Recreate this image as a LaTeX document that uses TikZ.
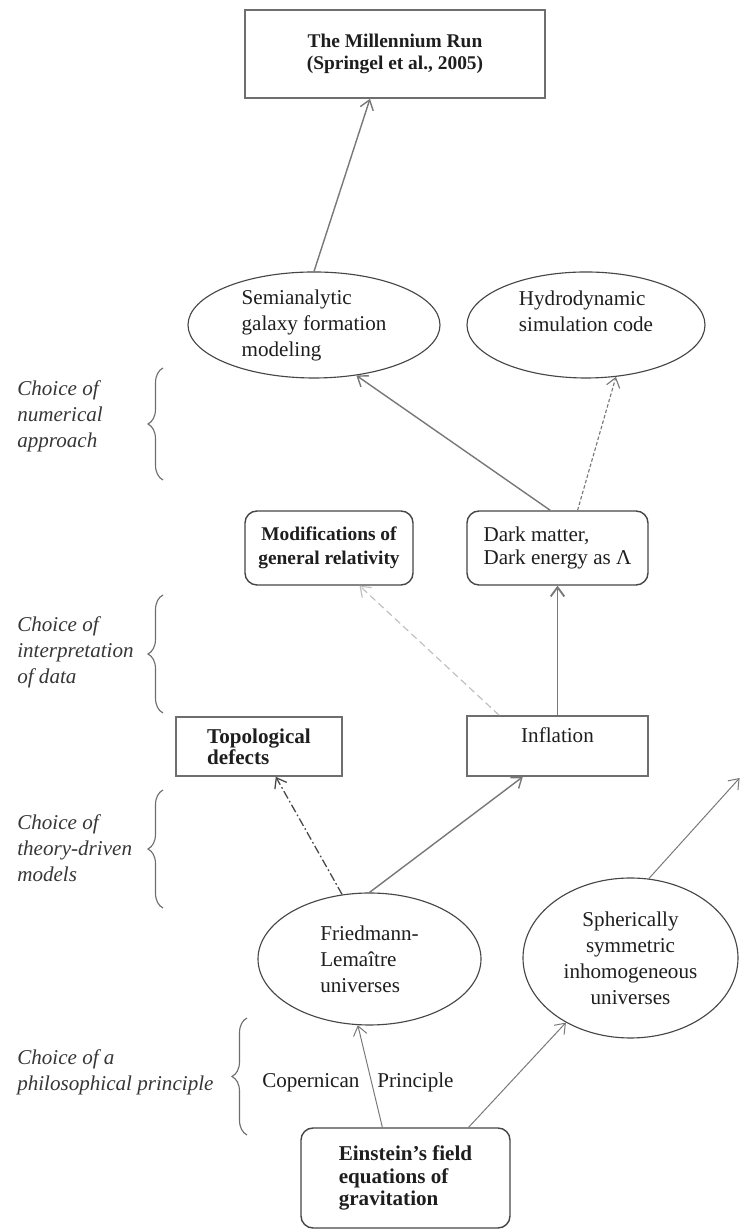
\documentclass[tikz,border=0pt]{standalone}
\usepackage{fontspec}
\setmainfont{Liberation Serif}
\usetikzlibrary{arrows.meta,calc,shapes.geometric,decorations.pathreplacing}
\definecolor{MilInk}{RGB}{30,30,30}
\definecolor{MilLine}{RGB}{110,110,110}
\definecolor{MilEdge}{RGB}{70,70,70}
\definecolor{MilArrow}{RGB}{120,120,120}
\definecolor{MilLight}{RGB}{190,190,190}
\definecolor{MilLabel}{RGB}{55,55,55}
\tikzset{
  mil/box/.style={
    draw=MilLine,
    line width=1.2pt,
    fill=white,
    text=MilInk,
    inner sep=0pt,
    align=center,
    font=\fontsize{13.8}{15.6}\selectfont\bfseries
  },
  mil/rbox/.style={
    draw=MilEdge,
    line width=1pt,
    rounded corners=0.3cm,
    fill=white,
    text=MilInk,
    inner sep=0pt,
    align=left,
    font=\fontsize{15}{16.5}\selectfont
  },
  mil/ell/.style={
    ellipse,
    draw=MilEdge,
    line width=0.8pt,
    fill=white,
    text=MilInk,
    inner sep=0pt,
    align=left,
    font=\fontsize{15}{18.5}\selectfont
  },
  mil/label/.style={anchor=west, inner sep=0pt, align=left, text=MilLabel, font=\fontsize{15}{18.5}\selectfont\itshape},
  mil/brace/.style={decorate, decoration={brace, amplitude=0.375cm}, draw=MilLine, line width=0.8pt},
  mil/arrow/.style={-{Straight Barb[length=2.3mm,width=3.4mm]}, line width=1pt, draw=MilArrow},
  mil/thinarrow/.style={-{Straight Barb[length=2.3mm,width=3.4mm]}, line width=0.7pt, draw=MilArrow},
  mil/dotarrow/.style={-{Straight Barb[length=2.3mm,width=3.4mm]}, line width=0.8pt, draw=MilArrow, dash pattern=on 2.5pt off 1.5pt},
  mil/lightarrow/.style={-{Straight Barb[length=2.3mm,width=3.4mm]}, line width=0.8pt, draw=MilLight, dash pattern=on 5pt off 3pt},
  mil/dasharrow/.style={-{Straight Barb[length=2.3mm,width=3.4mm]}, line width=0.9pt, draw=MilEdge, dash pattern=on 6pt off 2pt on 1.2pt off 2pt}
}
\begin{document}
\begin{tikzpicture}[x=1cm,y=1cm]
  \path[use as bounding box, fill=white] (0,0) rectangle (18.5,30.75);
  \node[mil/box,minimum width=7.5cm,minimum height=2.2cm] (run) at (9.875,29.4) {The Millennium Run\\(Springel et al., 2005)};
  \node[mil/ell,minimum width=6.3cm,minimum height=2.65cm] (semi) at (7.85,22.625) {Semianalytic\\galaxy formation\\modeling};
  \node[mil/ell,minimum width=5.95cm,minimum height=2.65cm,text depth=19pt] (hydro) at (14.65,22.625) {Hydrodynamic\\simulation code};
  \node[mil/rbox,align=center,minimum width=4.2cm,minimum height=1.85cm,font=\fontsize{13.8}{17}\selectfont\bfseries] (mods) at (8.225,17.05) {Modifications of\\general relativity};
  \node[mil/rbox,minimum width=4.525cm,minimum height=1.85cm] (dark) at (13.9375,17.05) {Dark matter,\\Dark energy as Λ};
  \node[mil/box,align=left,minimum width=4.15cm,minimum height=1.475cm,font=\fontsize{15}{15}\selectfont\bfseries] (topo) at (6.475,12.0875) {Topological\\defects};
  \node[mil/box,minimum width=4.525cm,minimum height=1.5cm,text depth=16pt,font=\fontsize{15}{15}\selectfont] (infl) at (13.9375,12.1) {Inflation};
  \node[mil/ell,minimum width=5.575cm,minimum height=3.3cm] (fried) at (9.2375,6.775) {Friedmann-\\Lemaître\\universes};
  \node[mil/ell,align=center,minimum width=5.375cm,minimum height=4cm] (sph) at (15.7625,6.8) {Spherically\\symmetric\\inhomogeneous\\universes};
  \node[mil/rbox,minimum width=5.225cm,minimum height=2.5cm,font=\fontsize{15}{16}\selectfont\bfseries] (ein) at (10.1375,1.3) {Einstein's field\\equations of\\gravitation};
  \node[anchor=base west,inner sep=0pt,text=MilInk,font=\fontsize{15}{18}\selectfont] (cop) at (6.55,3.55) {Copernican\hspace{0.85em}Principle};
  \coordinate (offedge) at (18.49,11.3);

  \node[mil/label] (numlab) at (0.425,20.35) {Choice of\\numerical\\approach};
  \node[mil/label] (datalab) at (0.425,14.45) {Choice of\\interpretation\\of data};
  \node[mil/label] (theolab) at (0.425,9.55) {Choice of\\theory-driven\\models};
  \node[mil/label] (philab) at (0.425,3.95) {Choice of a\\philosophical principle};
  \foreach \xb/\yb/\yt in {4.075/18.75/21.55, 4.075/12.925/15.875, 4.075/8.05/11.0, 6.175/2.375/5.3}{
    \draw[mil/brace] (\xb,\yb) -- (\xb,\yt);
  }

  \draw[mil/arrow] (semi.north) -- ($(run.south west)!0.417!(run.south east)$);
  \draw[mil/arrow] ($(dark.north west)!0.46!(dark.north east)$) -- (semi.-50);
  \draw[mil/dotarrow] ($(dark.north west)!0.61!(dark.north east)$) -- (hydro.-60);
  \draw[mil/arrow,line width=1.3pt] (infl.north) -- (dark.south);
  \draw[mil/lightarrow] ($(infl.north west)!0.18!(infl.north east)$) -- ($(mods.south west)!0.68!(mods.south east)$);
  \draw[mil/dasharrow] (fried.113) -- ($(topo.south west)!0.6!(topo.south east)$);
  \draw[mil/arrow] (fried.north) -- ($(infl.south west)!0.31!(infl.south east)$);
  \draw[mil/thinarrow] (sph.77) -- (offedge);
  \draw[mil/thinarrow] ($(ein.north west)!0.39!(ein.north east)$) -- (fried.-100);
  \draw[mil/thinarrow] ($(ein.north west)!0.8!(ein.north east)$) -- (sph.225);
\end{tikzpicture}
\end{document}
